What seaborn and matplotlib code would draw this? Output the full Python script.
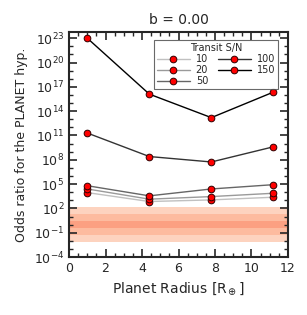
import numpy as np
import pandas as pd
import matplotlib
matplotlib.use("Agg")
import matplotlib.pyplot as plt
import seaborn as sns
from matplotlib.ticker import (FixedLocator, MultipleLocator, NullFormatter,
                               LogFormatterSciNotation)

# planet radii (R_earth) and log10 odds ratio per transit S/N
radius = [1.0, 4.4, 7.8, 11.2]
sn_levels = [10, 20, 50, 100, 150]
log_odds_10 = [3.95, 2.85, 3.05, 3.38]
log_odds_20 = [4.4, 3.14, 3.46, 3.87]
log_odds_50 = [4.8, 3.55, 4.4, 4.93]
log_odds_100 = [11.3, 8.4, 7.73, 9.6]
log_odds_150 = [23.0, 16.1, 13.2, 16.35]
line_colors = ["#c0c0c0", "#9a9a9a", "#666666", "#333333", "#000000"]

# Kass & Raftery thresholds for the shaded bands
thresholds = [150, 20, 3]
band_colors = ["#fdd3bf", "#fdbb9f", "#fca082"]

rows = []
for sn, vals in zip(sn_levels, [log_odds_10, log_odds_20, log_odds_50,
                                log_odds_100, log_odds_150]):
    for r, v in zip(radius, vals):
        rows.append({"radius": r, "odds": 10.0 ** v, "sn": sn})
df = pd.DataFrame(rows)

sns.set_style("ticks")
plt.rcParams.update({
    "xtick.direction": "in", "ytick.direction": "in",
    "xtick.top": True, "ytick.right": True,
    "axes.linewidth": 1.5,
    "xtick.major.size": 6, "ytick.major.size": 6,
    "xtick.minor.size": 3, "ytick.minor.size": 3,
    "xtick.major.width": 1.2, "ytick.major.width": 1.2,
    "xtick.minor.width": 1.0, "ytick.minor.width": 1.0,
})
plt.rcParams['font.family'] = ['DejaVu Sans']

fig = plt.figure(figsize=(3.07, 3.15), dpi=100)
ax = fig.add_axes([0.225, 0.184, 0.713, 0.714])

for t, c in zip(thresholds, band_colors):
    ax.axhspan(1.0 / t, t, color=c, lw=0, zorder=0)

sns.lineplot(data=df, x="radius", y="odds", hue="sn", palette=line_colors,
             marker="o", markersize=4.8, markerfacecolor="red",
             markeredgecolor="#300000", markeredgewidth=0.7, lw=1.0,
             legend=False, ax=ax, zorder=3)

ax.set_yscale("log")
ax.set_xlim(0, 12)
ax.set_ylim(1e-4, 10 ** 23.75)
ax.xaxis.set_major_locator(MultipleLocator(2))
ax.xaxis.set_minor_locator(MultipleLocator(0.5))
ax.yaxis.set_major_locator(FixedLocator(10.0 ** np.arange(-4, 24, 3)))
ax.yaxis.set_minor_locator(FixedLocator(10.0 ** np.arange(-4, 24, 1)))
ax.yaxis.set_major_formatter(LogFormatterSciNotation())
ax.yaxis.set_minor_formatter(NullFormatter())
ax.tick_params(which="both", top=True, right=True, labelsize=9)

ax.set_xlabel(r"Planet Radius [R$_\oplus$]", fontsize=10)
ax.set_ylabel("Odds ratio for the PLANET hyp.", fontsize=9)
ax.set_title("b = 0.00", fontsize=10)

handles = ax.get_lines()[:len(sn_levels)]
leg = ax.legend(handles, [str(s) for s in sn_levels], title="Transit S/N",
                ncol=2, fontsize=7, title_fontsize=7, loc="upper right",
                fancybox=False, edgecolor="#444444", handlelength=3.4,
                columnspacing=1.0, labelspacing=0.12, borderpad=0.25,
                handletextpad=0.6, bbox_to_anchor=(0.975, 0.985))
leg.get_frame().set_linewidth(0.8)

fig.savefig("out.png", dpi=100)
